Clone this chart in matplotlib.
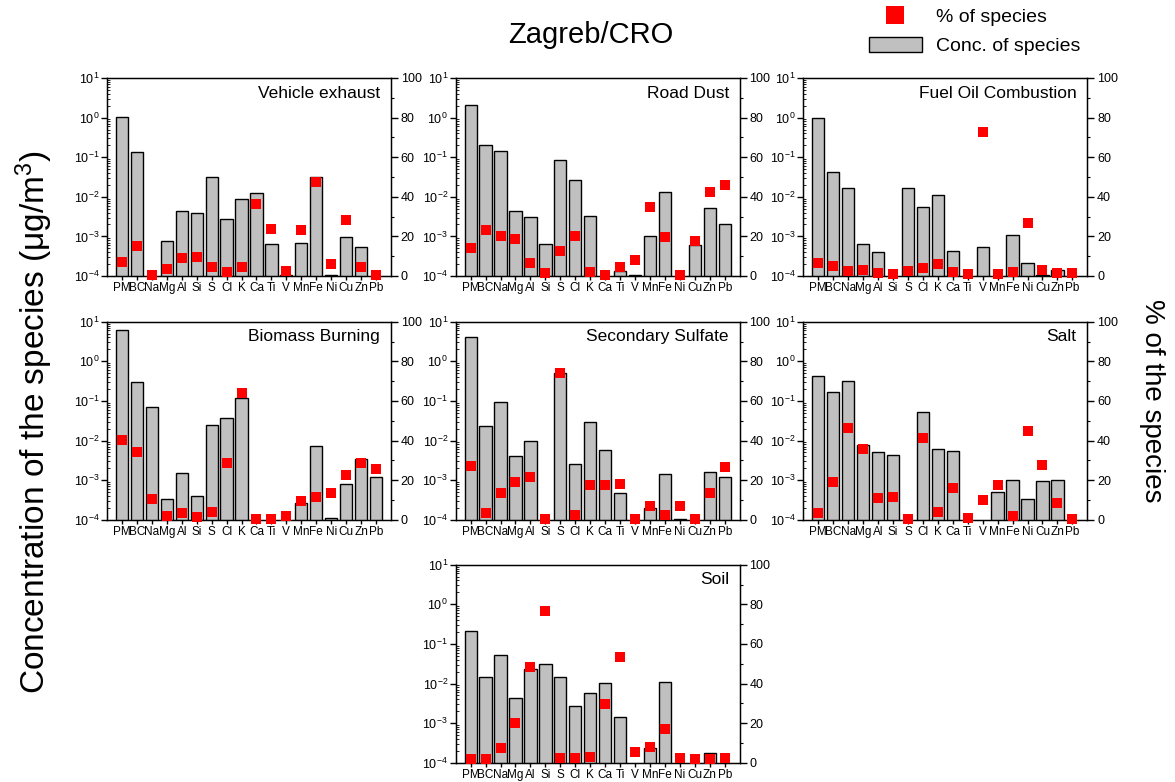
import numpy as np
import matplotlib
matplotlib.use("Agg")
import matplotlib.pyplot as plt
from matplotlib.ticker import LogLocator, NullFormatter, MultipleLocator
from matplotlib.lines import Line2D
from matplotlib.patches import Patch

plt.rcParams['font.family'] = ['Liberation Sans', 'DejaVu Sans']
plt.rcParams['mathtext.fontset'] = 'custom'
plt.rcParams['mathtext.rm'] = 'Liberation Sans'
plt.rcParams['mathtext.it'] = 'Liberation Sans:italic'
plt.rcParams['mathtext.bf'] = 'Liberation Sans:bold'

nan = np.nan

species = ['PM', 'BC', 'Na', 'Mg', 'Al', 'Si', 'S', 'Cl', 'K', 'Ca',
           'Ti', 'V', 'Mn', 'Fe', 'Ni', 'Cu', 'Zn', 'Pb']

vehicle_conc = [1.05, 0.134, nan, 7.5e-4, 4.5e-3, 4.0e-3, 0.0324, 2.7e-3, 8.6e-3, 0.0124,
                6.5e-4, 1.02e-4, 6.7e-4, 0.031, 1.03e-4, 9.6e-4, 5.4e-4, nan]
vehicle_pct = [7.3, 15.2, 0.5, 3.4, 9.3, 9.8, 4.7, 2.0, 4.7, 36.3,
               23.6, 2.5, 23.3, 47.4, 5.9, 28.3, 4.7, 0.5]

road_conc = [2.13, 0.209, 0.142, 4.3e-3, 3.06e-3, 6.5e-4, 0.087, 0.027, 3.2e-3, nan,
             1.29e-4, 1.02e-4, 1.04e-3, 0.0131, nan, 5.9e-4, 5.3e-3, 2.1e-3]
road_pct = [14.3, 23.3, 20.1, 18.5, 6.4, 1.7, 12.8, 20.4, 1.9, 0.3,
            4.7, 8.1, 34.9, 19.7, 0.3, 17.7, 42.3, 45.9]

fuel_conc = [1.0, 0.0434, 0.0171, 6.4e-4, 4.1e-4, nan, 0.0164, 5.4e-3, 0.0108, 4.2e-4,
             nan, 5.4e-4, nan, 1.06e-3, 2.1e-4, 1.04e-4, 1.42e-4, nan]
fuel_pct = [6.7, 5.1, 2.5, 3.0, 1.3, 0.8, 2.5, 4.0, 6.1, 1.9,
            0.8, 72.7, 0.8, 2.0, 26.8, 3.2, 1.7, 1.3]

biomass_conc = [6.3, 0.308, 0.072, 3.4e-4, 1.5e-3, 4.0e-4, 0.0249, 0.0367, 0.117, nan,
                nan, nan, 2.7e-4, 7.3e-3, 1.08e-4, 7.8e-4, 3.5e-3, 1.17e-3]
biomass_pct = [40.4, 34.0, 10.4, 1.7, 3.2, 1.3, 3.9, 28.8, 63.8, 0.3,
               0.5, 1.9, 9.4, 11.3, 13.3, 22.6, 28.8, 25.8]

sulfate_conc = [4.04, 0.0235, 0.094, 4.1e-3, 9.8e-3, nan, 0.517, 2.6e-3, 0.030, 5.6e-3,
                4.8e-4, nan, 1.97e-4, 1.42e-3, 1.02e-4, nan, 1.62e-3, 1.17e-3]
sulfate_pct = [27.3, 3.2, 13.6, 18.9, 21.7, 0.5, 74.2, 2.4, 17.3, 17.3,
               17.8, 0.5, 6.9, 2.4, 7.1, 0.5, 13.6, 26.4]

salt_conc = [0.418, 0.169, 0.326, 7.8e-3, 5.1e-3, 4.3e-3, nan, 0.0527, 6.0e-3, 5.4e-3,
             nan, nan, 5.1e-4, 9.8e-4, 3.4e-4, 9.3e-4, 1.0e-3, nan]
salt_pct = [3.2, 19.0, 46.3, 35.7, 11.1, 11.3, 0.5, 41.1, 3.7, 16.2,
            1.0, 10.1, 17.5, 1.7, 44.9, 27.4, 8.4, 0.3]

soil_conc = [0.217, 0.0147, 0.053, 4.4e-3, 0.0226, 0.0302, 0.0142, 2.7e-3, 5.7e-3, 0.010,
             1.45e-3, nan, 2.4e-4, 0.0112, nan, nan, 1.76e-4, nan]
soil_pct = [1.9, 2.0, 7.6, 19.9, 48.1, 76.4, 2.4, 2.4, 3.0, 29.5,
            53.5, 5.4, 8.1, 17.2, 2.5, 1.7, 1.7, 2.2]

# (title, conc, pct, row, col)
panels = [
    ("Vehicle exhaust", vehicle_conc, vehicle_pct, 0, 0),
    ("Road Dust", road_conc, road_pct, 0, 1),
    ("Fuel Oil Combustion", fuel_conc, fuel_pct, 0, 2),
    ("Biomass Burning", biomass_conc, biomass_pct, 1, 0),
    ("Secondary Sulfate", sulfate_conc, sulfate_pct, 1, 1),
    ("Salt", salt_conc, salt_pct, 1, 2),
    ("Soil", soil_conc, soil_pct, 2, 1),
]

W, H = 1175, 782
col_left = [107, 455.7, 803.3]
row_bottom = [276, 519.7, 762.7]
ax_w, ax_h = 284, 198

fig = plt.figure(figsize=(W / 100, H / 100), dpi=100)

x = np.arange(len(species))

for title, conc, pct, r, c in panels:
    ax = fig.add_axes([col_left[c] / W, 1 - row_bottom[r] / H, ax_w / W, ax_h / H])
    ax.bar(x, conc, width=0.82, bottom=1e-6, color='#c0c0c0',
           edgecolor='black', linewidth=1.0)
    ax.set_yscale('log')
    ax.set_ylim(1e-4, 10)
    ax.set_xlim(-1, len(species))
    ax.set_xticks(x)
    ax.set_xticklabels(species, fontsize=8.5)
    ax.yaxis.set_major_locator(LogLocator(base=10, numticks=10))
    ax.yaxis.set_minor_locator(LogLocator(base=10, subs=np.arange(2, 10), numticks=20))
    ax.yaxis.set_minor_formatter(NullFormatter())
    ax.tick_params(axis='y', which='major', direction='out', length=4, width=1,
                   labelsize=9, pad=1.5)
    ax.tick_params(axis='y', which='minor', direction='in', length=2, width=0.6)
    ax.tick_params(axis='x', direction='out', length=3, width=1, pad=1.5)
    for s in ax.spines.values():
        s.set_linewidth(1.0)
    ax.text(0.962, 0.924, title, transform=ax.transAxes, ha='right', va='center',
            fontsize=12.5)

    ax2 = ax.twinx()
    ax2.plot(x, pct, linestyle='none', marker='s', markersize=6.5,
             color='#ff0000', markeredgewidth=0, clip_on=False, zorder=5)
    ax2.set_ylim(0, 100)
    ax2.set_yticks(range(0, 101, 20))
    ax2.yaxis.set_minor_locator(MultipleLocator(10))
    ax2.tick_params(axis='y', which='major', direction='out', length=5, width=1,
                    labelsize=9, pad=2)
    ax2.tick_params(axis='y', which='minor', direction='out', length=2.5, width=0.8)

fig.text(591 / W, 1 - 35 / H, "Zagreb/CRO", ha='center', va='center', fontsize=21)
fig.text(34 / W, 1 - 422 / H, "Concentration of the species (\u03bcg/m$^3$)",
         rotation=90, ha='center', va='center', fontsize=24)
fig.text(1152 / W, 1 - 401 / H, "% of the species", rotation=270,
         ha='center', va='center', fontsize=20)

handles = [Line2D([], [], linestyle='none', marker='s', markersize=13,
                  color='#ff0000', markeredgewidth=0),
           Patch(facecolor='#c0c0c0', edgecolor='black', linewidth=1.0)]
fig.legend(handles, ['% of species', 'Conc. of species'], loc='upper left',
           bbox_to_anchor=(869 / W, 1 - 8 / H), frameon=False, fontsize=14,
           borderpad=0, borderaxespad=0, handlelength=2.7, handleheight=0.8,
           handletextpad=0.75, labelspacing=0.55)

fig.savefig("out.png", dpi=100)
